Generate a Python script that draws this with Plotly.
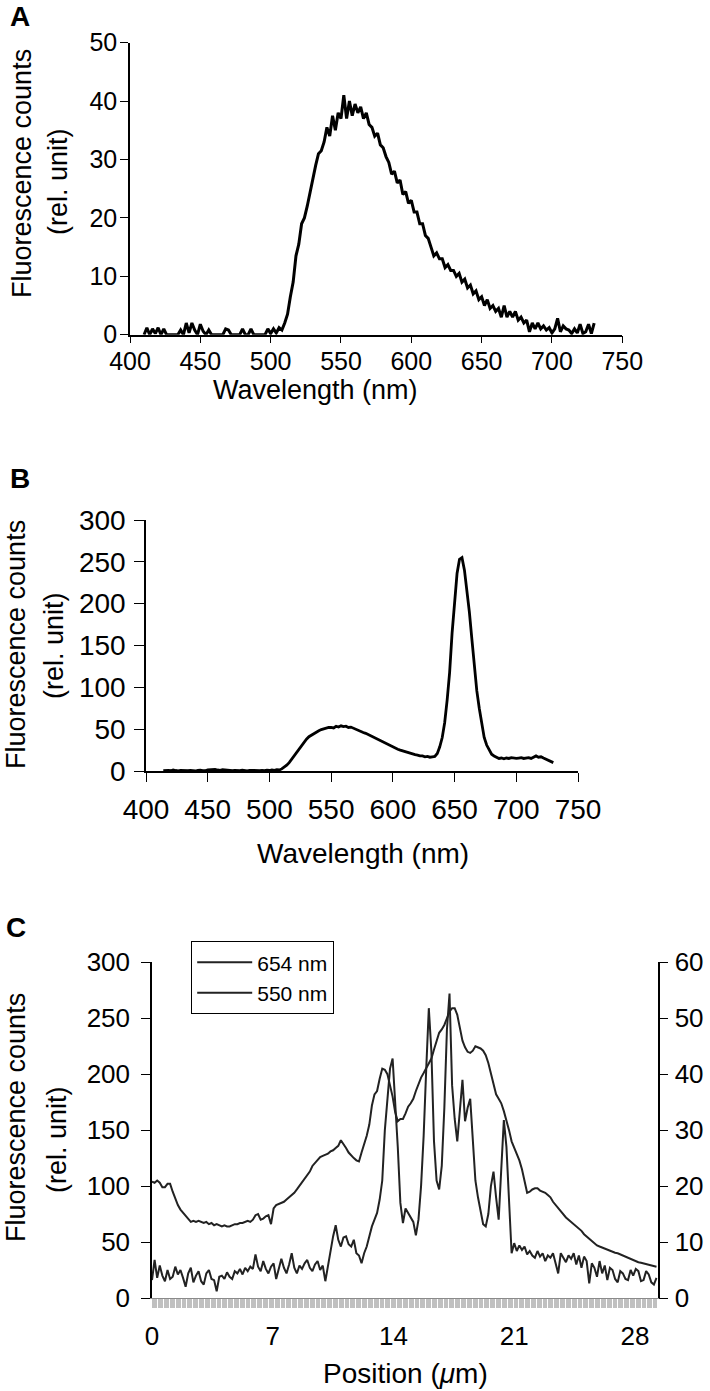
import plotly.graph_objects as go

W, H = 710, 1391

# ---------------- Panel A data (wavelength nm, counts) ----------------
wl_a_start, wl_a_step = 410, 2
counts_a = [
    0, 1.2, 0, 1.0, 0.2, 1.2, 0, 1.0, 0, 0,
    0, 0, 0, 0.8, 0, 2.0, 0.3, 2.0, 0.8, 0,
    1.8, 0.6, 0, 0.8, 0, 0, 0, 0, 0, 1.0,
    0.8, 0, 0, 0, 0, 1.0, 0, 0, 1.0, 0,
    0, 0, 0, 0, 1.0, 0.2, 1.0, 0.3, 1.2, 0.8,
    2.0, 3.5, 6.5, 9.0, 13.5, 15.5, 19.0, 20.0, 22.0, 24.5,
    26.5, 29.0, 31.0, 31.5, 33.0, 35.5, 34.0, 37.5, 35.0, 38.0,
    37.0, 41.0, 37.0, 40.0, 37.5, 39.5, 38.0, 39.0, 37.0, 38.0,
    36.0, 35.5, 34.0, 34.5, 32.5, 32.0, 30.5, 29.5, 27.5, 28.0,
    26.0, 26.5, 24.0, 24.5, 22.5, 23.0, 21.0, 21.0, 19.0, 19.0,
    17.0, 16.5, 15.0, 13.5, 14.0, 13.0, 13.0, 11.5, 12.0, 11.0,
    11.0, 10.0, 10.5, 9.0, 9.5, 8.0, 8.5, 7.0, 7.5, 6.0,
    6.5, 5.0, 6.0, 4.5, 5.0, 4.0, 4.5, 3.0, 5.0, 3.0,
    4.0, 3.0, 4.0, 2.5, 3.0, 2.0, 2.5, 0.5, 2.0, 1.0,
    2.0, 1.0, 1.5, 0.8, 1.2, 0.3, 1.0, 2.8, 0.5, 1.5,
    1.0, 0.8, 0.2, 1.0, 0.3, 1.8, 0.2, 0.5, 1.8, 0.2,
    2.0,
]
wl_a = [wl_a_start + wl_a_step * i for i in range(len(counts_a))]

# ---------------- Panel B data ----------------
wl_b_start, wl_b_step = 414, 2
counts_b = [
    0.5, 1.0, 0.8, 0.3, 1.2, 0.6, 0.2, 0.8, 0.5, 0.0,
    0.4, 0.8, 0.2, 0.0, 0.6, 1.0, 0.5, 0.3, 1.2, 1.5,
    1.0, 1.8, 1.2, 0.8, 1.5, 1.0, 0.5, 0.8, 0.3, 0.6,
    0.2, 0.5, 1.0, 0.4, 0.2, 0.8, 0.5, 0.3, 0.0, 0.5,
    0.8, 0.4, 1.0, 0.6, 1.2, 0.8, 1.5, 1.2, 2.5, 4.5,
    7, 10, 14, 18, 23, 27, 31, 35, 38, 41,
    43, 45, 46.5, 48, 49.5, 50.5, 51, 52, 52, 51.5,
    53.5, 52.5, 54, 53, 53.5, 52, 52.5, 51, 50, 49,
    47.5, 46, 45, 43.5, 42, 40.5, 38.5, 37, 35.5, 34,
    32.5, 31, 29.5, 28.5, 27.5, 26, 25, 24, 23, 22,
    21, 20, 19.5, 19, 18, 18, 17, 17.5, 16.5, 17,
    17.5, 21, 29, 40, 58, 85, 118, 165, 205, 236,
    253, 255, 240, 218, 190, 158, 125, 96, 75, 55,
    40, 31, 25, 20, 18, 16, 15, 15.5, 14.5, 15.5,
    15, 16, 15.5, 15, 15.5, 16, 15, 15.5, 16, 15,
    17, 18, 16.5, 17, 15.5, 14, 13, 11.5, 10,
]
wl_b = [wl_b_start + wl_b_step * i for i in range(len(counts_b))]

# ---------------- Panel C data (position um) ----------------
pos_step = 0.15
c654 = [
    16, 34, 18, 29, 20, 15, 25, 17, 19, 28,
    21, 25, 18, 10, 22, 27, 14, 20, 24, 15,
    12, 22, 25, 17, 16, 6, 19, 20, 17, 23,
    19, 17, 24, 22, 26, 21, 27, 24, 28, 26,
    39, 28, 24, 33, 26, 22, 28, 31, 17, 26,
    35, 27, 22, 30, 40, 27, 22, 29, 26, 31,
    34, 27, 24, 30, 33, 25, 29, 15, 28, 43,
    55, 65, 52, 46, 54, 55, 48, 46, 52, 40,
    38, 31, 40, 46, 55, 64, 70, 76, 88, 105,
    150, 180, 205, 214, 175, 135, 85, 67, 80, 76,
    73, 68, 56, 70, 100, 145, 205, 259, 220, 140,
    105, 97, 118, 170, 240, 272, 190, 160, 140, 170,
    195, 158, 170, 178, 140, 105, 90, 76, 66, 64,
    75, 100, 113, 90, 70, 115, 159, 135, 80, 40,
    49, 42, 47, 43, 46, 39, 42, 38, 36, 42,
    37, 40, 33, 38, 36, 40, 31, 22, 40, 36,
    32, 38, 35, 40, 30, 38, 27, 37, 33, 13,
    31, 27, 19, 33, 22, 29, 16, 27, 25, 17,
    14, 24, 22, 17, 16, 25, 20, 26, 24, 15,
    16, 24, 21, 14, 12, 18,
]
c550 = [
    20.8, 20.6, 21.0, 20.6, 19.8, 19.8, 20.4, 20.4, 19.0, 17.8,
    16.6, 15.8, 15.2, 14.6, 14.0, 13.6, 13.8, 13.6, 13.8, 13.6,
    13.4, 13.6, 13.2, 13.4, 13.0, 13.2, 13.0, 12.8, 13.0, 12.8,
    12.8, 13.0, 13.2, 13.2, 13.4, 13.4, 13.6, 13.8, 13.6, 14.0,
    14.8, 15.0, 14.0, 14.2, 14.6, 14.8, 13.2, 16.0, 16.6, 16.8,
    17.0, 17.2, 17.6, 18.0, 18.4, 18.8, 19.4, 20.0, 20.6, 21.2,
    22.0, 22.6, 23.6, 24.2, 24.6, 25.2, 25.4, 25.6, 25.8, 26.2,
    26.4, 26.8, 27.2, 28.2, 27.6, 26.8, 26.0, 25.4, 25.0, 24.6,
    24.4, 26.0, 27.4, 29.0, 31.0, 34.4, 36.4, 37.0, 39.2, 41.0,
    40.8, 40.0, 38.0, 36.0, 33.2, 31.6, 32.0, 32.0, 33.0, 34.2,
    34.8, 35.6, 37.0, 38.4, 39.4, 40.2, 41.0, 41.8, 42.8, 44.4,
    46.0, 47.4, 48.0, 48.8, 50.0, 51.2, 51.8, 51.8, 50.6, 48.0,
    46.0, 44.8, 44.0, 43.8, 44.2, 45.0, 44.8, 44.6, 44.2, 43.4,
    42.0, 40.0, 38.4, 36.4, 35.6, 34.8, 33.4, 31.8, 30.0, 28.0,
    26.8, 25.8, 24.6, 23.0, 21.0, 18.8, 19.0, 19.4, 19.6, 19.6,
    19.2, 19.0, 18.8, 18.4, 18.0, 17.2, 16.6, 16.0, 15.4, 14.8,
    14.4, 14.0, 13.6, 13.2, 12.8, 12.4, 12.0, 11.4, 11.0, 10.6,
    10.2, 9.8, 9.4, 9.2, 9.0, 8.8, 8.6, 8.4, 8.2, 8.1,
    8.0, 7.8, 7.6, 7.3, 7.2, 7.0, 6.8, 6.6, 6.4, 6.3,
    6.2, 6.1, 6.0, 5.8, 5.7, 5.6,
]
pos_c = [round(pos_step * i, 2) for i in range(len(c654))]

wl_ticks = [400, 450, 500, 550, 600, 650, 700, 750]
pos_label_every = 7
cat_step = 0.07            # spacing of the dense category tick marks
pos_max = 29.32
n_cat = int(pos_max / cat_step) + 1
cat_vals = [round(cat_step * k, 2) for k in range(n_cat)]
per_label = int(round(pos_label_every / cat_step))
cat_text = [str(int(round(v))) if k % per_label == 0 else "" for k, v in enumerate(cat_vals)]

FONT = "Liberation Sans, Arial, Helvetica, sans-serif"


def dx(a, b):
    return [a / W, b / W]


def dy(top, bottom):
    return [1 - bottom / H, 1 - top / H]


fig = go.Figure()
fig.add_trace(go.Scatter(x=wl_a, y=counts_a, xaxis="x", yaxis="y", mode="lines",
                         line=dict(color="black", width=3), showlegend=False))
fig.add_trace(go.Scatter(x=wl_b, y=counts_b, xaxis="x2", yaxis="y2", mode="lines",
                         line=dict(color="black", width=2.8), showlegend=False))
fig.add_trace(go.Scatter(x=pos_c, y=c654, xaxis="x3", yaxis="y3", mode="lines",
                         name="654 nm", line=dict(color="#222222", width=2)))
fig.add_trace(go.Scatter(x=pos_c, y=c550, xaxis="x3", yaxis="y4", mode="lines",
                         name="550 nm", line=dict(color="#222222", width=2)))

common = dict(showgrid=False, zeroline=False, showline=True, linecolor="black",
              tickcolor="black", ticks="outside", automargin=False)
band_tick = "#c0c0c0"

fig.update_layout(
    width=W, height=H, autosize=False,
    margin=dict(l=0, r=0, t=0, b=0, pad=0),
    paper_bgcolor="white", plot_bgcolor="white",
    font=dict(family=FONT, color="black"),
    # Panel A
    xaxis=dict(domain=dx(130, 622.3), anchor="y", range=[400, 750], tickmode="array",
               tickvals=wl_ticks, ticklen=7, tickwidth=1.3, linewidth=1.5,
               tickfont=dict(size=25), ticklabelstandoff=-3, **common),
    yaxis=dict(domain=dy(42.7, 334.7), anchor="x", range=[0, 50], dtick=10,
               ticklen=8, tickwidth=1.3, linewidth=1.5, tickfont=dict(size=25),
               ticklabelstandoff=-2, **common),
    # Panel B
    xaxis2=dict(domain=dx(146, 578), anchor="y2", range=[400, 750], tickmode="array",
                tickvals=wl_ticks, ticklen=9, tickwidth=1.3, linewidth=1.5,
                tickfont=dict(size=28), ticklabelstandoff=4, **common),
    yaxis2=dict(domain=dy(520, 771), anchor="x2", range=[0, 300], dtick=50,
                ticklen=10, tickwidth=1.3, linewidth=1.5, tickfont=dict(size=28),
                ticklabelstandoff=3, **common),
    # Panel C
    xaxis3=dict(domain=dx(152, 657.7), anchor="y3", range=[0, pos_max], tickmode="array",
                tickvals=cat_vals, ticktext=cat_text, ticks="outside", ticklen=9,
                tickwidth=1, tickcolor=band_tick, showgrid=False, zeroline=False,
                showline=True, linecolor="#8a8a8a", linewidth=1, layer="below traces",
                tickfont=dict(size=26), ticklabelstandoff=6, automargin=False),
    xaxis4=dict(overlaying="x3", anchor="y3", range=[0, pos_max], tickmode="array",
                tickvals=cat_vals, ticktext=["" for _ in cat_vals], ticks="inside",
                ticklen=9, tickwidth=1, tickcolor=band_tick, showticklabels=False,
                showgrid=False, zeroline=False, showline=False, layer="below traces",
                automargin=False),
    yaxis3=dict(domain=dy(962.3, 1298), anchor="x3", range=[0, 300], dtick=50,
                ticklen=9, tickwidth=1.3, linewidth=1.5, tickfont=dict(size=26),
                ticklabelstandoff=6, **common),
    yaxis4=dict(overlaying="y3", side="right", anchor="x3", range=[0, 60], dtick=10,
                ticklen=9, tickwidth=1.3, linewidth=1.5, tickfont=dict(size=26),
                ticklabelstandoff=1, **common),
    yaxis5=dict(overlaying="y3", side="left", anchor="x3", range=[0, 300], dtick=50,
                ticks="inside", ticklen=9, tickwidth=1.3, tickcolor="black",
                showticklabels=False, showline=False, showgrid=False, zeroline=False,
                automargin=False),
    yaxis6=dict(overlaying="y3", side="right", anchor="x3", range=[0, 60], dtick=10,
                ticks="inside", ticklen=9, tickwidth=1.3, tickcolor="black",
                showticklabels=False, showline=False, showgrid=False, zeroline=False,
                automargin=False),
    legend=dict(x=191 / W, y=1 - 941 / H, xanchor="left", yanchor="top",
                bgcolor="white", bordercolor="black", borderwidth=1.2,
                font=dict(size=21), itemwidth=55, tracegroupgap=0),
    showlegend=True,
)


def ann(text, x, y, size, angle=0, bold=False):
    fig.add_annotation(text=f"<b>{text}</b>" if bold else text,
                       x=x / W, y=1 - y / H, xref="paper", yref="paper",
                       xanchor="center", yanchor="middle", showarrow=False,
                       textangle=angle, font=dict(size=size, family=FONT, color="black"))


ann("A", 20, 17, 28, bold=True)
ann("B", 20, 478, 28, bold=True)
ann("C", 16, 927, 28, bold=True)

ann("Fluorescence counts", 22, 174, 27, angle=-90)
ann("(rel. unit)", 58, 182, 27, angle=-90)
ann("Wavelength (nm)", 315, 390, 27)

ann("Fluorescence counts", 16, 645, 27, angle=-90)
ann("(rel. unit)", 54, 646, 27, angle=-90)
ann("Wavelength (nm)", 363, 853, 28)

ann("Fluorescence counts", 16, 1118, 27, angle=-90)
ann("(rel. unit)", 57, 1140, 27, angle=-90)
ann("Position (<i>μ</i>m)", 405, 1373, 28)

fig.write_html(
    "out.html",
    config={"displayModeBar": False},
    post_script="document.body.style.margin='0px';document.body.style.overflow='hidden';",
)
